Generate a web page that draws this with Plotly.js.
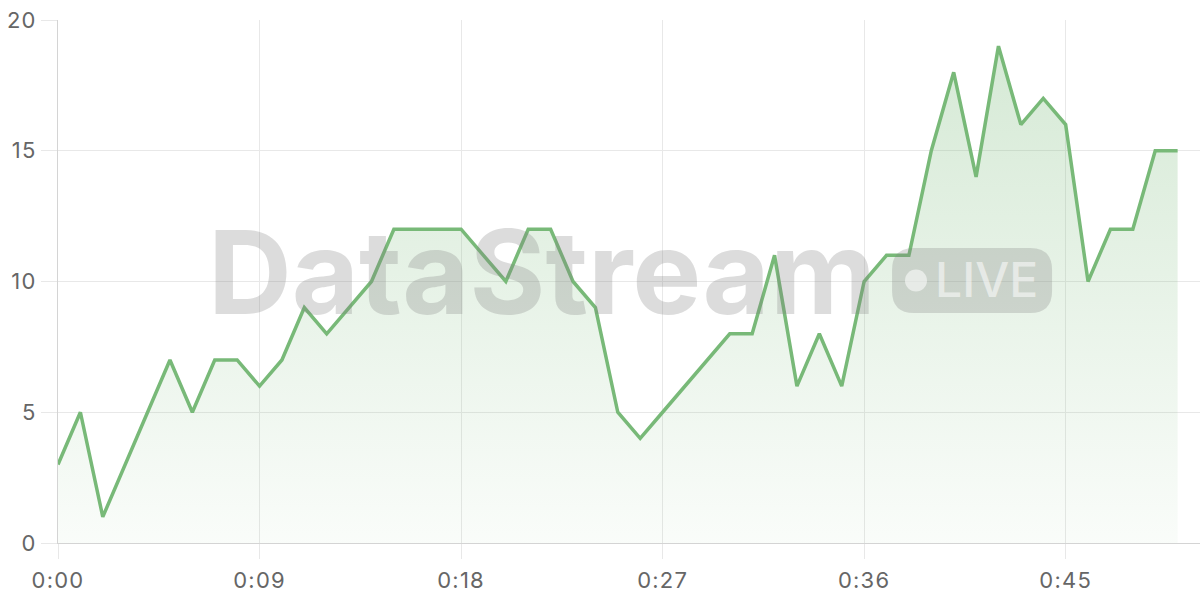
<!DOCTYPE html>
<html>
<head>
<meta charset="utf-8">
<script src="https://cdn.plot.ly/plotly-3.0.1.min.js"></script>
<style>
  html, body { margin: 0; padding: 0; background: #fff; }
  #chart_div { width: 1200px; height: 600px; }
  /* the axis labels in the original are spaced a little wider */
  #chart_div .xtick text, #chart_div .ytick text { letter-spacing: 1.2px; }
</style>
</head>
<body>
<div id="chart_div"></div>
<script>
// elapsed seconds and the reading taken at each one
var seconds = [0, 1, 2, 3, 4, 5, 6, 7, 8, 9,
               10, 11, 12, 13, 14, 15, 16, 17, 18, 19,
               20, 21, 22, 23, 24, 25, 26, 27, 28, 29,
               30, 31, 32, 33, 34, 35, 36, 37, 38, 39,
               40, 41, 42, 43, 44, 45, 46, 47, 48, 49, 50];
var readings = [3, 5, 1, 3, 5, 7, 5, 7, 7, 6,
                7, 9, 8, 9, 10, 12, 12, 12, 12, 11,
                10, 12, 12, 10, 9, 5, 4, 5, 6, 7,
                8, 8, 11, 6, 8, 6, 10, 11, 11, 15,
                18, 14, 19, 16, 17, 16, 10, 12, 12, 15, 15];

// x axis labels, one every 9 seconds
var tick_seconds = [0, 9, 18, 27, 36, 45];
var tick_labels = ['0:00', '0:09', '0:18', '0:27', '0:36', '0:45'];

var y_ticks = [0, 5, 10, 15, 20];

var green = 'rgb(120,185,120)';
var watermark_grey = 'rgba(128,128,128,0.28)';

var trace = {
  x: seconds,
  y: readings,
  type: 'scatter',
  mode: 'lines',
  line: { color: green, width: 3.5 },
  fill: 'tozeroy',
  fillgradient: {
    type: 'vertical',
    start: 0,
    stop: 20,
    colorscale: [[0, 'rgba(120,185,120,0.04)'], [1, 'rgba(120,185,120,0.32)']]
  },
  hoverinfo: 'skip'
};

var tickfont = { family: 'Inter, "Liberation Sans", sans-serif', size: 22, color: '#666' };

var layout = {
  width: 1200,
  height: 600,
  margin: { l: 58, r: 0, t: 20, b: 57 },
  paper_bgcolor: '#fff',
  plot_bgcolor: '#fff',
  showlegend: false,
  xaxis: {
    range: [0, 51],
    tickmode: 'array',
    tickvals: tick_seconds,
    ticktext: tick_labels,
    showgrid: true,
    gridcolor: '#e8e8e8',
    ticks: 'outside',
    ticklen: 15,
    tickcolor: '#e8e8e8',
    ticklabelstandoff: 3,
    showline: true,
    linecolor: '#d4d4d4',
    zeroline: false,
    tickfont: tickfont,
    fixedrange: true
  },
  yaxis: {
    range: [0, 20],
    tickmode: 'array',
    tickvals: y_ticks,
    showgrid: true,
    gridcolor: '#e8e8e8',
    ticks: 'outside',
    ticklen: 16,
    tickcolor: '#e8e8e8',
    showline: true,
    linecolor: '#d4d4d4',
    zeroline: false,
    tickfont: tickfont,
    fixedrange: true
  },
  // watermark: badge behind "LIVE"
  shapes: [
    {
      type: 'path',
      xref: 'paper', yref: 'paper',
      xsizemode: 'pixel', ysizemode: 'pixel',
      xanchor: 0.8004, yanchor: 0.502,
      path: 'M -58 -32.5 L 58 -32.5 Q 80 -32.5 80 -10.5 L 80 10.5 Q 80 32.5 58 32.5 ' +
            'L -58 32.5 Q -80 32.5 -80 10.5 L -80 -10.5 Q -80 -32.5 -58 -32.5 Z',
      fillcolor: watermark_grey,
      line: { width: 0 },
      layer: 'above'
    },
    {
      type: 'circle',
      xref: 'paper', yref: 'paper',
      xsizemode: 'pixel', ysizemode: 'pixel',
      xanchor: 0.7513, yanchor: 0.502,
      x0: -11, x1: 11, y0: -11, y1: 11,
      fillcolor: 'rgba(255,255,255,0.55)',
      line: { width: 0 },
      layer: 'above'
    }
  ],
  annotations: [
    {
      text: 'DataStream',
      xref: 'paper', yref: 'paper',
      x: 0.130, y: 0.519,
      xanchor: 'left', yanchor: 'middle',
      showarrow: false,
      font: { family: 'Inter, "Liberation Sans", sans-serif', size: 116, weight: 700, color: watermark_grey }
    },
    {
      text: 'LIVE',
      xref: 'paper', yref: 'paper',
      x: 0.813, y: 0.5038,
      xanchor: 'center', yanchor: 'middle',
      showarrow: false,
      font: { family: 'Inter, "Liberation Sans", sans-serif', size: 48, weight: 500, color: 'rgba(255,255,255,0.55)' }
    }
  ]
};

Plotly.newPlot('chart_div', [trace], layout, { displayModeBar: false, staticPlot: true });
</script>
</body>
</html>
